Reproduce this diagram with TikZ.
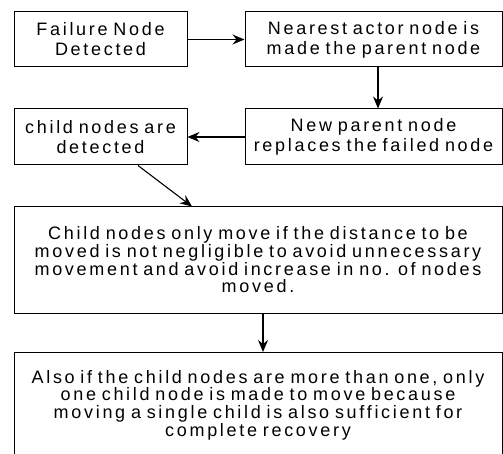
\documentclass[tikz,border=0pt]{standalone}
\usepackage{fontspec}
\setmainfont{Liberation Sans}[LetterSpace=15,WordSpace=0.75]
\usetikzlibrary{arrows.meta}

\begin{document}
\begin{tikzpicture}[x=1pt,y=-1pt,
	box/.style={draw,line width=1pt,align=center,inner sep=0pt,font=\fontsize{18}{20}\selectfont},
	wide/.style={box,minimum width=488,font=\fontsize{18}{17.7}\selectfont},
	flow/.style={line width=1.1pt,-{Stealth[length=12pt,width=10pt,inset=4pt]}}]
	\useasboundingbox (0,0) rectangle (503,454);
	\clip (0,0) rectangle (503,454);
	\node[box, minimum width=173, minimum height=55] (fail) at (100.5,39.5) {Failure Node\\Detected};
	\node[box, minimum width=257, minimum height=55] (actor) at (373.5,39.5) {Nearest actor node is\\made the parent node};
	\node[box, minimum width=257, minimum height=56] (parent) at (373.5,137) {New parent node\\replaces the failed node};
	\node[box, minimum width=173, minimum height=56] (child) at (100.5,137) {child nodes are\\detected};
	\node[wide, minimum height=106] (move) at (258,260) {Child nodes only move if the distance to be\\moved is not negligible to avoid unnecessary\\movement and avoid increase in no. of nodes\\moved.};
	\node[wide, minimum height=105] (one) at (258,405) {Also if the child nodes are more than one, only\\one child node is made to move because\\moving a single child is also sufficient for\\complete recovery};
	\path[flow] (fail) edge (actor);
	\path[flow] ([xshift=4.5pt]actor.south) edge ([xshift=4.5pt]parent.north);
	\path[flow] (parent) edge (child);
	\path[flow] ([xshift=37.5pt]child.south) edge ([xshift=-66pt]move.north);
	\path[flow] ([xshift=5pt]move.south) edge ([xshift=5pt]one.north);
\end{tikzpicture}
\end{document}
